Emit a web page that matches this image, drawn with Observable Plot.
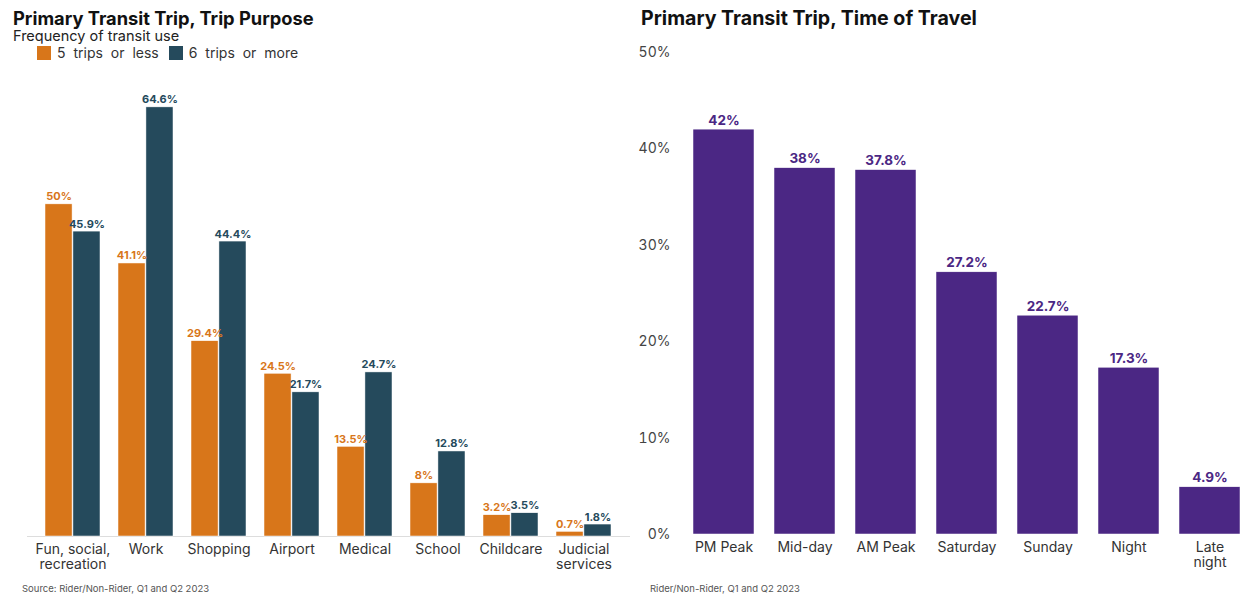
<!DOCTYPE html>
<html><head><meta charset="utf-8">
<script src="https://cdn.jsdelivr.net/npm/d3@7"></script>
<script src="https://cdn.jsdelivr.net/npm/@observablehq/plot@0.6"></script>
<style>
html,body{margin:0;padding:0;background:#fff;}
body{width:1248px;height:596px;position:relative;overflow:hidden;font-family:Inter,"Noto Sans",sans-serif;color:#222;}
.title{position:absolute;font-weight:700;line-height:20px;color:#111;white-space:nowrap;}
.sub{position:absolute;font-size:14.5px;line-height:15px;color:#222;white-space:nowrap;}
.legend{position:absolute;font-size:14px;line-height:16px;color:#333;display:flex;align-items:center;white-space:nowrap;word-spacing:4px;}
.sw{display:inline-block;width:14px;height:14px;margin-right:6px;}
.src{position:absolute;font-size:9.5px;color:#555;white-space:nowrap;}
.panel{position:absolute;}
</style>
</head><body>
<div class="title" style="left:13px;top:8px;font-size:18.3px;">Primary Transit Trip, Trip Purpose</div>
<div class="sub" style="left:13px;top:28px;">Frequency of transit use</div>
<div class="legend" id="legend" style="left:37px;top:45px;"></div>
<div class="panel" id="left" style="left:0;top:60px;"></div>
<div class="src" style="left:22px;top:583px;">Source: Rider/Non-Rider, Q1 and Q2 2023</div>

<div class="title" style="left:641px;top:8px;font-size:19.6px;">Primary Transit Trip, Time of Travel</div>
<div class="panel" id="right" style="left:624px;top:40px;"></div>
<div class="src" style="left:650px;top:583px;">Rider/Non-Rider, Q1 and Q2 2023</div>

<script>
// ---- Data ----
const purposes = ["Fun, social, recreation","Work","Shopping","Airport","Medical","School","Childcare","Judicial services"];
const purposeLabels = ["Fun, social,\nrecreation","Work","Shopping","Airport","Medical","School","Childcare","Judicial\nservices"];
const lessValues = [50,41.1,29.4,24.5,13.5,8,3.2,0.7];
const moreValues = [45.9,64.6,44.4,21.7,24.7,12.8,3.5,1.8];
const seriesNames = ["5 trips or less","6 trips or more"];
const seriesColors = ["#d8761a","#254a5c"];

const times = ["PM Peak","Mid-day","AM Peak","Saturday","Sunday","Night","Late night"];
const timeLabels = ["PM Peak","Mid-day","AM Peak","Saturday","Sunday","Night","Late\nnight"];
const timeValues = [42,38,37.8,27.2,22.7,17.3,4.9];
const timeTicks = [0,10,20,30,40,50];
const purple = "#4b2784";

// ---- Legend ----
const leg = document.getElementById("legend");
seriesNames.forEach((n,i)=>{
  const s=document.createElement("span");s.className="sw";s.style.background=seriesColors[i];
  const t=document.createElement("span");t.textContent=n;t.style.marginRight="10px";
  leg.appendChild(s);leg.appendChild(t);
});

// ---- Left chart ----
const rows = purposes.map((p,i)=>({purpose:p, less:lessValues[i], more:moreValues[i]}));
const lw=630, lml=27, lmr=0, pin=0.24, pout=0.222;
const lstep=(lw-lml-lmr)/(purposes.length-pin+2*pout);
const bw=lstep*(1-pin);
const pct = v => v+"%";
const left = Plot.plot({
  width: lw, height: 520, marginTop: 11, marginBottom: 44, marginLeft: lml, marginRight: lmr,
  style: {fontFamily:"Inter, sans-serif", fontSize:"14px", color:"#333", background:"transparent", overflow:"visible"},
  x: {domain: purposes, paddingInner: pin, paddingOuter: pout, label: null},
  y: {domain: [0,70], axis: null},
  marks: [
    Plot.ruleY([0], {stroke:"#ddd", strokeWidth:1}),
    Plot.barY(rows, {x:"purpose", y:"less", fill:seriesColors[0], insetRight: bw/2, stroke:"#fff", strokeWidth:0.5}),
    Plot.barY(rows, {x:"purpose", y:"more", fill:seriesColors[1], insetLeft: bw/2, stroke:"#fff", strokeWidth:0.5}),
    Plot.text(rows, {x:"purpose", y:"less", text:d=>pct(d.less), dx:-bw/4, dy:-4, lineAnchor:"bottom", fill:seriesColors[0], fontWeight:700, fontSize:11}),
    Plot.text(rows, {x:"purpose", y:"more", text:d=>pct(d.more), dx:bw/4, dy:-4, lineAnchor:"bottom", fill:seriesColors[1], fontWeight:700, fontSize:11}),
    Plot.axisX({tickSize:0, tickPadding:6, lineHeight:1.12, label:null, fill:"#333",
      tickFormat: d => purposeLabels[purposes.indexOf(d)]})
  ]
});
document.getElementById("left").appendChild(left);

// ---- Right chart ----
const trows = times.map((t,i)=>({time:t, value:timeValues[i]}));
const right = Plot.plot({
  width: 624, height: 540, marginTop: 12, marginBottom: 46, marginLeft: 61, marginRight: 0,
  style: {fontFamily:"Inter, sans-serif", fontSize:"14px", color:"#333", background:"transparent", overflow:"visible"},
  x: {domain: times, paddingInner: 0.25, paddingOuter: 0.1, label: null},
  y: {domain: [0,50], label: null},
  marks: [
    Plot.barY(trows, {x:"time", y:"value", fill:purple, stroke:"#fff", strokeWidth:0.5}),
    Plot.text(trows, {x:"time", y:"value", text:d=>pct(d.value), dy:-5, lineAnchor:"bottom", fill:purple, fontWeight:700, fontSize:13.5}),
    Plot.axisX({tickSize:0, tickPadding:6, lineHeight:1.12, label:null, fill:"#333",
      tickFormat: d => timeLabels[times.indexOf(d)]}),
    Plot.axisY({ticks: timeTicks, tickFormat: d => d+"%", tickSize:0, tickPadding:15, label:null, fill:"#444"})
  ]
});
document.getElementById("right").appendChild(right);
</script>
</body></html>
